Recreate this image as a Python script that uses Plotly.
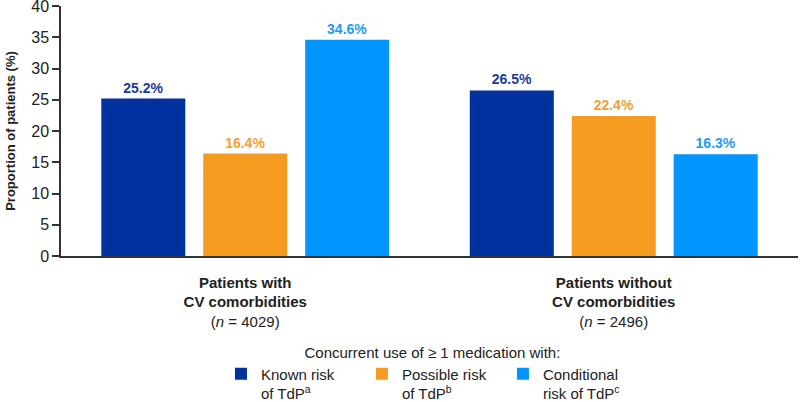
import plotly.graph_objects as go

# categories on the x axis
groups = ['<b>Patients with<br>CV comorbidities</b><br>(<i>n</i> = 4029)',
          '<b>Patients without<br>CV comorbidities</b><br>(<i>n</i> = 2496)']

# one series per TdP risk level
series_names = ['Known risk<br>of TdP<sup>a</sup>',
                'Possible risk<br>of TdP<sup>b</sup>',
                'Conditional<br>risk of TdP<sup>c</sup>']
known_risk = [25.2, 26.5]
possible_risk = [16.4, 22.4]
conditional_risk = [34.6, 16.3]

bar_colors = ['#00319E', '#F59B1F', '#0196FF']
label_colors = ['#1C3B96', '#F2A233', '#1E9CF2']

font_name = 'Liberation Sans, Arial, sans-serif'

fig = go.Figure()
for name, vals, col, lcol in zip(series_names,
                                 [known_risk, possible_risk, conditional_risk],
                                 bar_colors, label_colors):
    fig.add_trace(go.Bar(
        x=groups, y=vals, name=name,
        marker=dict(color=col, line=dict(width=0)),
        text=['<b>%.1f%%</b>' % v for v in vals],
        textposition='outside',
        textfont=dict(color=lcol, size=14, family=font_name),
        cliponaxis=False,
    ))

fig.update_layout(
    width=800, height=402,
    margin=dict(l=61, r=2, t=6, b=146, autoexpand=False),
    plot_bgcolor='white', paper_bgcolor='white',
    font=dict(family=font_name, color='#222222', size=15),
    barmode='group', bargap=0.17, bargroupgap=0.176,
    showlegend=True,
    legend=dict(
        orientation='h', x=0.504, xanchor='center', y=-0.328, yanchor='top',
        title=dict(text='Concurrent use of ≥ 1 medication with:', side='top center',
                   font=dict(size=15)),
        font=dict(size=15), valign='top', traceorder='normal',
        entrywidth=96, entrywidthmode='pixels',
    ),
    xaxis=dict(showline=True, linecolor='#333333', linewidth=1.5, ticks='',
               tickfont=dict(size=15), ticklabelstandoff=12, automargin=False),
    yaxis=dict(range=[0, 40], dtick=5, showline=True, linecolor='#333333', linewidth=1.5,
               ticks='outside', ticklen=7, tickwidth=1.5, tickcolor='#333333',
               showgrid=False, zeroline=False, tickfont=dict(size=16),
               ticklabeloverflow='allow', automargin=False,
               title=dict(text='<b>Proportion of patients (%)</b>', font=dict(size=13),
                          standoff=13)),
)

# drop the default page margin so the figure sits at the top-left corner
fig.write_html('out.html', config={'displayModeBar': False},
               post_script="document.body.style.margin='0';")
